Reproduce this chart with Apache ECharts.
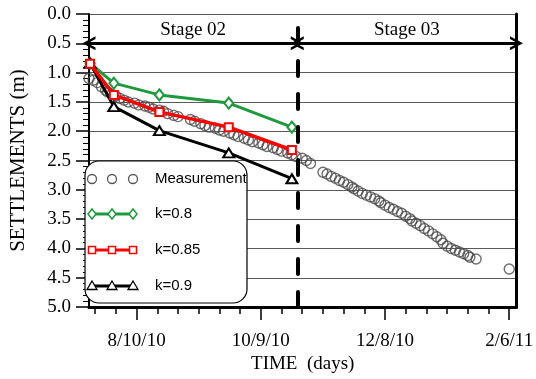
<!DOCTYPE html>
<html>
<head>
<meta charset="utf-8">
<script src="https://cdn.jsdelivr.net/npm/echarts@6/dist/echarts.min.js"></script>
<style>
  html, body { margin: 0; padding: 0; background: #fff; }
  #chart { width: 536px; height: 379px; }
</style>
</head>
<body>
<div id="chart"></div>
<script>
// x values are days counted from 8/10/10
const labelDays = [0, 60, 120, 180]
const labelTexts = ['8/10/10', '10/9/10', '12/8/10', '2/6/11']
const tickDays = [-20, -10, 0, 10, 20, 30, 40, 50, 60, 70, 80, 90, 100, 110, 120, 130, 140, 150, 160, 170, 180]

const measDays = [-23, -21, -19, -17, -15, -14, -12, -10, -8, -6, -4, -1, 1, 4, 6, 8, 11, 13, 15, 18, 20,
  26, 28, 31, 33, 35, 38, 40, 42, 45, 47, 49, 52, 54, 56, 59, 61, 63, 66, 68, 70, 73, 75, 77, 80, 82, 84,
  90, 92, 94, 96, 98, 100, 102, 104, 105, 107, 109, 111, 113, 115, 117, 118, 120, 122, 124, 126, 128,
  130, 132, 133, 135, 137, 139, 141, 143, 145, 147, 148, 150, 152, 154, 156, 158, 160, 161, 164, 180]
const measValues = [1.10, 1.13, 1.17, 1.24, 1.30, 1.33, 1.37, 1.40, 1.44, 1.47, 1.50, 1.52, 1.55, 1.57, 1.59, 1.62, 1.64, 1.66, 1.70, 1.73, 1.75,
  1.80, 1.83, 1.87, 1.90, 1.93, 1.95, 1.98, 2.00, 2.03, 2.06, 2.09, 2.12, 2.15, 2.18, 2.20, 2.23, 2.26, 2.28, 2.31, 2.34, 2.37, 2.40, 2.43, 2.46, 2.50, 2.55,
  2.70, 2.73, 2.77, 2.80, 2.84, 2.87, 2.91, 2.95, 2.98, 3.02, 3.06, 3.09, 3.12, 3.15, 3.19, 3.22, 3.26, 3.30, 3.33, 3.37, 3.40,
  3.45, 3.49, 3.53, 3.57, 3.61, 3.66, 3.70, 3.75, 3.80, 3.85, 3.91, 3.96, 4.00, 4.03, 4.06, 4.09, 4.12, 4.15, 4.18, 4.35]

const modelDays = [-22.5, -11, 11, 44.5, 75]
const k080 = [0.84, 1.18, 1.38, 1.52, 1.93]
const k085 = [0.85, 1.38, 1.67, 1.93, 2.32]
const k090 = [0.84, 1.58, 1.99, 2.37, 2.81]

const stageNames = ['Stage 02', 'Stage 03']
const stageStart = -23
const stageSplit = 77.6
const stageEnd = 183.5

const serif = '"Times New Roman", "Liberation Serif", serif'
const sans = 'Arial, "Liberation Sans", sans-serif'
const green = '#1e9a3c'
const red = '#ff0000'
const chevron = 'path://M0,12 L6,0 L12,12 L9.6,12 L6,4.8 L2.4,12 Z'

const pairs = (xs, ys) => xs.map((x, i) => [x, ys[i]])

// legend box, drawn by hand so each entry shows three markers like the original
function legendGraphics() {
  const rows = [179, 214, 250, 286]
  const marks = [92, 112, 133]
  const names = ['Measurement', 'k=0.8', 'k=0.85', 'k=0.9']
  const out = [{
    type: 'rect', z: 100,
    shape: { x: 85, y: 161, width: 162, height: 142, r: 14 },
    style: { fill: '#fff', stroke: '#000', lineWidth: 1.2 }
  }]
  const lineColors = [null, green, red, '#000']
  rows.forEach((y, r) => {
    if (lineColors[r]) {
      out.push({ type: 'line', z: 101, shape: { x1: 89, y1: y, x2: 135, y2: y },
        style: { stroke: lineColors[r], lineWidth: 3 } })
    }
    marks.forEach(x => {
      if (r === 0) {
        out.push({ type: 'circle', z: 102, shape: { cx: x, cy: y, r: 4.5 },
          style: { fill: 'none', stroke: '#555', lineWidth: 1.3 } })
      } else if (r === 1) {
        out.push({ type: 'polygon', z: 102, shape: { points: [[x, y - 5], [x + 4, y], [x, y + 5], [x - 4, y]] },
          style: { fill: '#fff', stroke: green, lineWidth: 1.5 } })
      } else if (r === 2) {
        out.push({ type: 'rect', z: 102, shape: { x: x - 3.5, y: y - 3.5, width: 7, height: 7 },
          style: { fill: '#fff', stroke: red, lineWidth: 1.5 } })
      } else {
        out.push({ type: 'polygon', z: 102, shape: { points: [[x, y - 5], [x + 5, y + 3.5], [x - 5, y + 3.5]] },
          style: { fill: '#fff', stroke: '#000', lineWidth: 1.3 } })
      }
    })
    out.push({ type: 'text', z: 102, x: 155, y: y,
      style: { text: names[r], font: '15px ' + sans, fill: '#000', verticalAlign: 'middle' } })
  })
  return out
}

const chart = echarts.init(document.getElementById('chart'))

chart.setOption({
  animation: false,
  backgroundColor: '#fff',
  grid: { left: 80, right: 14, top: 14, bottom: 70 },
  xAxis: [
    {
      type: 'value',
      min: stageStart,
      max: stageEnd,
      name: 'TIME  (days)',
      nameLocation: 'middle',
      nameGap: 44,
      nameTextStyle: { fontFamily: serif, fontSize: 19, color: '#000' },
      axisLine: { onZero: false, lineStyle: { color: '#000', width: 3 } },
      axisTick: { customValues: tickDays, length: 7, lineStyle: { color: '#000', width: 1.5 } },
      axisLabel: {
        customValues: labelDays,
        formatter: v => labelTexts[labelDays.indexOf(Math.round(v))] || '',
        margin: 24,
        fontFamily: serif,
        fontSize: 19,
        color: '#000'
      },
      splitLine: { show: false }
    },
    {
      type: 'value',
      min: stageStart,
      max: stageEnd,
      position: 'bottom',
      axisLine: { show: false, onZero: false },
      axisTick: { customValues: labelDays, length: 13, lineStyle: { color: '#000', width: 1.5 } },
      axisLabel: { show: false },
      splitLine: { show: false }
    }
  ],
  yAxis: [
    {
      type: 'value',
      inverse: true,
      min: 0,
      max: 5,
      interval: 0.5,
      name: 'SETTLEMENTS (m)',
      nameLocation: 'middle',
      nameGap: 60,
      nameTextStyle: { fontFamily: serif, fontSize: 21, color: '#000' },
      axisLine: { show: true, onZero: false, lineStyle: { color: '#000', width: 2 } },
      axisTick: { show: true, length: 13, lineStyle: { color: '#000', width: 1.5 } },
      minorTick: { show: true, splitNumber: 5, length: 6, lineStyle: { color: '#000', width: 1 } },
      axisLabel: { formatter: v => v.toFixed(1), margin: 18, fontFamily: serif, fontSize: 19, color: '#000' },
      splitLine: { show: true, lineStyle: { color: '#5a5a5a', width: 1 } }
    },
    {
      type: 'value',
      inverse: true,
      min: 0,
      max: 5,
      position: 'right',
      axisLine: { show: true, onZero: false, lineStyle: { color: '#000', width: 3 } },
      axisTick: { show: false },
      axisLabel: { show: false },
      splitLine: { show: false }
    }
  ],
  graphic: legendGraphics(),
  series: [
    {
      name: 'Measurement',
      type: 'scatter',
      data: pairs(measDays, measValues),
      symbol: 'circle',
      symbolSize: 10,
      itemStyle: { color: 'rgba(0,0,0,0)', borderColor: '#4a4a4a', borderWidth: 1.4 },
      z: 2,
      markLine: {
        silent: true,
        symbol: [chevron, chevron],
        symbolSize: [14, 13],
        lineStyle: { color: '#000', width: 3, type: 'solid' },
        label: {
          show: true,
          position: 'insideMiddleTop',
          distance: 4,
          formatter: '{b}',
          fontFamily: serif,
          fontSize: 19,
          color: '#000'
        },
        data: [
          [{ name: stageNames[0], coord: [stageStart, 0.5] }, { coord: [stageSplit, 0.5] }],
          [{ name: stageNames[1], coord: [stageSplit, 0.5] }, { coord: [stageEnd, 0.5] }]
        ]
      }
    },
    {
      name: 'k=0.8',
      type: 'line',
      data: pairs(modelDays, k080),
      symbol: 'emptyDiamond',
      symbolSize: [9, 11],
      lineStyle: { color: green, width: 3 },
      itemStyle: { color: green, borderWidth: 1.5 },
      z: 3
    },
    {
      name: 'k=0.85',
      type: 'line',
      data: pairs(modelDays, k085),
      symbol: 'emptyRect',
      symbolSize: 8,
      lineStyle: { color: red, width: 3.5 },
      itemStyle: { color: red, borderWidth: 1.5 },
      z: 4
    },
    {
      name: 'k=0.9',
      type: 'line',
      data: pairs(modelDays, k090),
      symbol: 'emptyTriangle',
      symbolSize: [11, 9],
      lineStyle: { color: '#000', width: 3 },
      itemStyle: { color: '#000', borderWidth: 1.3 },
      z: 3,
      markLine: {
        silent: true,
        symbol: 'none',
        lineStyle: { color: '#000', width: 4, type: [15, 18], cap: 'round' },
        label: { show: false },
        data: [[{ coord: [stageSplit, 5] }, { coord: [stageSplit, 0] }]]
      }
    }
  ]
})
</script>
</body>
</html>
